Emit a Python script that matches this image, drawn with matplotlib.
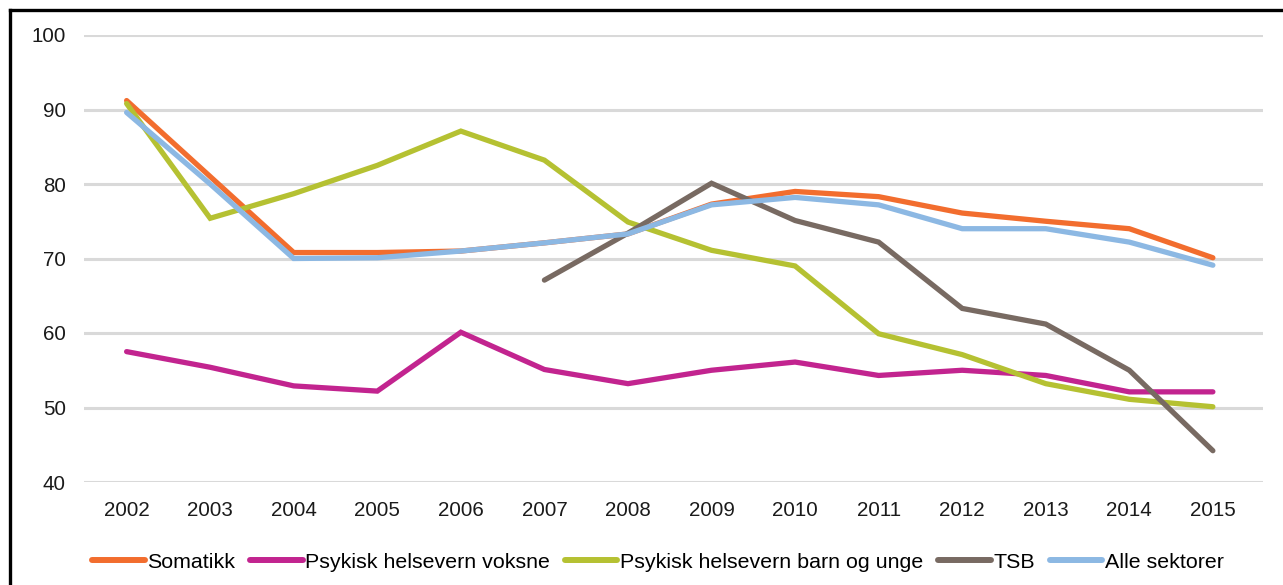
import matplotlib
matplotlib.use("Agg")
import matplotlib.pyplot as plt
from matplotlib.lines import Line2D

plt.rcParams['font.family'] = ['Liberation Sans', 'DejaVu Sans']

years = [2002, 2003, 2004, 2005, 2006, 2007, 2008, 2009, 2010, 2011, 2012, 2013, 2014, 2015]

somatikk = [91.2, 81.0, 70.8, 70.8, 71.0, 72.1, 73.3, 77.3, 79.0, 78.3, 76.1, 75.0, 74.0, 70.1]
psyk_voksne = [57.5, 55.4, 52.9, 52.2, 60.1, 55.1, 53.2, 55.0, 56.1, 54.3, 55.0, 54.3, 52.1, 52.1]
psyk_barn = [90.8, 75.4, 78.7, 82.5, 87.1, 83.2, 74.9, 71.1, 69.0, 59.9, 57.1, 53.2, 51.1, 50.1]
tsb_years = [2007, 2008, 2009, 2010, 2011, 2012, 2013, 2014, 2015]
tsb = [67.1, 73.4, 80.1, 75.1, 72.2, 63.3, 61.2, 55.0, 44.2]
alle = [89.6, 80.0, 70.0, 70.1, 71.0, 72.1, 73.3, 77.2, 78.2, 77.2, 74.0, 74.0, 72.2, 69.1]

labels = ["Somatikk", "Psykisk helsevern voksne", "Psykisk helsevern barn og unge",
          "TSB", "Alle sektorer"]
colors = ["#F26D2E", "#C2248F", "#B5C132", "#786A62", "#8CB8E3"]
yticks = [40, 50, 60, 70, 80, 90, 100]

fig = plt.figure(figsize=(12.83, 5.85), dpi=100)
ax = fig.add_axes([84 / 1283, 103 / 585, (1263 - 84) / 1283, 447 / 585])

series = [(years, somatikk), (years, psyk_voksne), (years, psyk_barn),
          (tsb_years, tsb), (years, alle)]
for (xs, ys), lab, col in zip(series, labels, colors):
    ax.plot(xs, ys, color=col, lw=3.8, label=lab, solid_capstyle='round',
            solid_joinstyle='miter')

ax.set_xlim(2001.49, 2015.6)
ax.set_ylim(40, 100)
ax.set_yticks(yticks)
ax.set_xticks(years)
ax.set_xticklabels([str(y) for y in years])
ax.yaxis.grid(True, color="#D9D9D9", lw=2.2)
ax.set_axisbelow(True)
for s in ax.spines.values():
    s.set_visible(False)
ax.tick_params(axis='both', length=0, labelsize=14.8, colors="#1a1a1a")
ax.tick_params(axis='y', pad=13)
ax.tick_params(axis='x', pad=14)

handles = [Line2D([0], [0], color=c, lw=4.3, solid_capstyle='round') for c in colors]
fig.legend(handles, labels, loc='center', bbox_to_anchor=(658 / 1283, 23 / 585),
           ncol=5, frameon=False, fontsize=15.4, handlelength=2.45,
           handletextpad=0.12, columnspacing=0.7, borderaxespad=0)

# frame lines along the left and top edges
fig.add_artist(Line2D([9.5 / 1283, 9.5 / 1283], [0, 1 - 9.5 / 585], color='black',
                      lw=2.4, transform=fig.transFigure))
fig.add_artist(Line2D([9.5 / 1283, 1], [1 - 9.5 / 585, 1 - 9.5 / 585], color='black',
                      lw=2.4, transform=fig.transFigure))

fig.savefig("out.png", dpi=100, facecolor='white')
